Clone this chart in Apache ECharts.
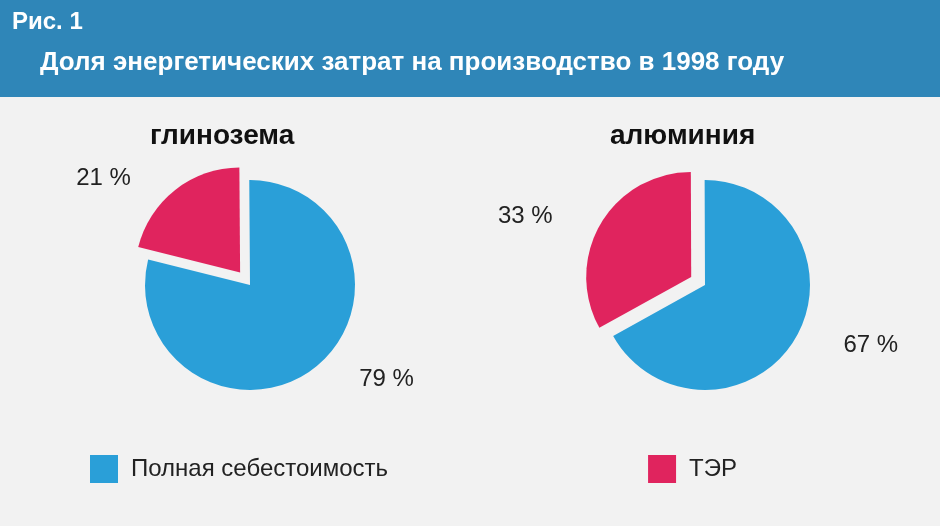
<!DOCTYPE html>
<html><head><meta charset="utf-8">
<script src="https://cdn.jsdelivr.net/npm/echarts@6/dist/echarts.min.js"></script>
<style>html,body{margin:0;padding:0;background:#f2f2f2}#c{width:940px;height:526px}</style>
</head><body><div id="c"></div>
<script>
const categories = ['ТЭР', 'Полная себестоимость'];
const alumina = [21, 79];
const aluminium = [33, 67];
const colors = ['#e0245e', '#2a9fd8'];
const chart = echarts.init(document.getElementById('c'));
function pie(vals, center, start) {
  return {
    type: 'pie', center: center, radius: [0, 105], startAngle: start,
    selectedMode: 'single', selectedOffset: 16, clockwise: true,
    label: {show: true, position: 'outside', formatter: '{c} %', fontSize: 24, color: '#222', fontFamily: 'Arial'},
    labelLine: {show: false},
    emphasis: {disabled: true},
    data: vals.map((v, i) => ({name: categories[i], value: v, selected: i === 0,
      itemStyle: {color: colors[i]}}))
  };
}
chart.setOption({
  animation: false,
  graphic: [
    {type: 'rect', shape: {x: 0, y: 0, width: 940, height: 97}, style: {fill: '#2f86b8'}},
    {type: 'text', left: 12, top: 10, style: {text: 'Рис. 1', fill: '#fff', font: 'bold 24px Arial'}},
    {type: 'text', left: 40, top: 50, style: {text: 'Доля энергетических затрат на производство в 1998 году', fill: '#fff', font: 'bold 26px Arial'}},
    {type: 'text', left: 150, top: 122, style: {text: 'глинозема', fill: '#111', font: 'bold 28px Arial'}},
    {type: 'text', left: 610, top: 122, style: {text: 'алюминия', fill: '#111', font: 'bold 28px Arial'}}
  ],
  legend: {bottom: 38, left: 85, itemGap: 260, itemWidth: 28, itemHeight: 28, icon: 'rect',
    selectedMode: false,
    data: ['Полная себестоимость', 'ТЭР'],
    textStyle: {fontSize: 24, color: '#222', fontFamily: 'Arial', padding: [0, 0, 0, 8]}},
  series: [pie(alumina, [250, 285], 166), pie(aluminium, [705, 285], 209)]
});
</script></body></html>
